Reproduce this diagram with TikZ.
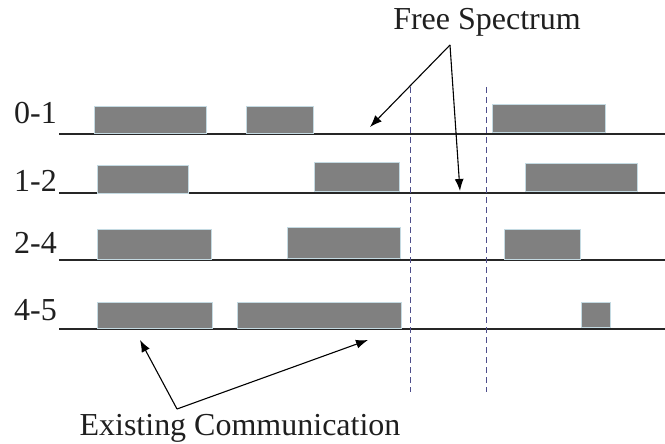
\documentclass[tikz,border=0pt]{standalone}
\usepackage{fontspec}
\setmainfont{Liberation Serif}
\usetikzlibrary{arrows.meta}

\definecolor{busygray}{RGB}{128,128,128}
\definecolor{busyedge}{RGB}{196,218,226}
\definecolor{guideblue}{RGB}{78,78,140}

\tikzset{
  busy/.style={fill=busygray, draw=busyedge, line width=0.8pt},
  chan/.style={line width=1.3pt, black!85},
  lbl/.style={font=\fontsize{32}{36}\selectfont, inner sep=0pt, text=black!88},
  guide/.style={guideblue, line width=1pt, dash pattern=on 6pt off 4pt},
  pointer/.style={-{Latex[length=12pt,width=9pt]}, line width=1.1pt}
}

\begin{document}
\begin{tikzpicture}[x=1pt, y=-1pt]
    \useasboundingbox (0,0) rectangle (665,444);

    % Canali
    \foreach \y/\b/\t [count=\i] in {134/124/0-1, 193/191/1-2, 260/253/2-4, 329/320/4-5} {
        \draw[chan] (59,\y) -- (665,\y);
        \node[lbl, anchor=base east] (lab\i) at (57,\b) {\t};
    }

    % Comunicazioni esistenti
    \draw[busy] (94,106) rectangle (206,133);
    \draw[busy] (246,106) rectangle (313,133);
    \draw[busy] (492,104) rectangle (605,132);
    \draw[busy] (97,165) rectangle (188,193);
    \draw[busy] (314,162) rectangle (399,191);
    \draw[busy] (525,163) rectangle (637,191);
    \draw[busy] (97,229) rectangle (211,259);
    \draw[busy] (287,227) rectangle (400,258);
    \draw[busy] (504,229) rectangle (580,259);
    \draw[busy] (97,302) rectangle (212,328);
    \draw[busy] (237,302) rectangle (401,328);
    \draw[busy] (581,302) rectangle (610,327);

    % Finestra libera
    \draw[guide] (410,87) -- (410,392);
    \draw[guide] (486,87) -- (486,392);

    % Etichette
    \node[lbl, anchor=base] (free) at (487,30) {Free Spectrum};
    \node[lbl, anchor=base] (exist) at (240,435) {Existing Communication};

    % Frecce
    \coordinate (fsapex) at (450,45);
    \coordinate (fs1) at (370,127);
    \coordinate (fs2) at (460,191);
    \draw[pointer] (fsapex) -- (fs1);
    \draw[pointer] (fsapex) -- (fs2);

    \coordinate (ecapex) at (177,409);
    \coordinate (ec1) at (140,340);
    \coordinate (ec2) at (368,340);
    \draw[pointer] (ecapex) -- (ec1);
    \draw[pointer] (ecapex) -- (ec2);

\end{tikzpicture}
\end{document}
